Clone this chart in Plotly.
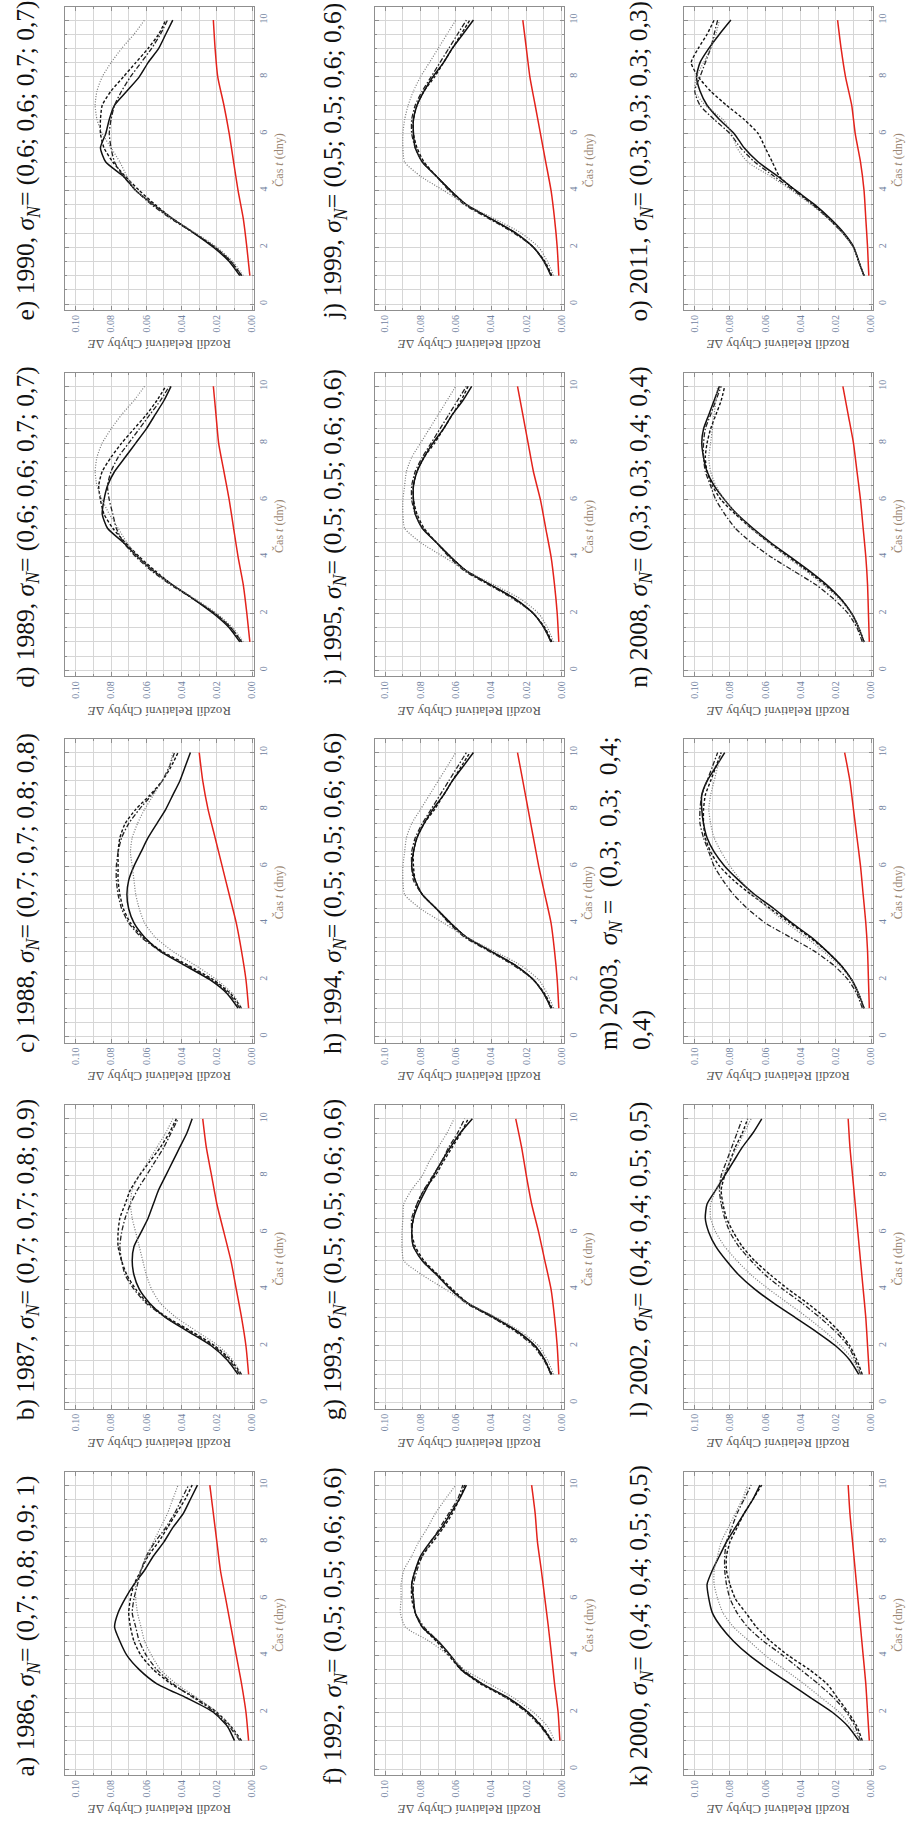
import plotly.graph_objects as go

# Time samples (days) for the four ensemble curves and for the red reference curve
T = [1, 1.5, 2, 2.5, 3, 3.5, 4, 4.5, 5, 5.5, 6, 6.5, 7, 7.5, 8, 8.5, 9, 9.5, 10]
T_RED = [1, 2, 3, 4, 5, 6, 7, 8, 9, 10]

# ---- a) 1986
A_SOLID = [.010, .014, .022, .037, .054, .064, .071, .075, .078, .076, .072, .067, .061, .056, .050, .045, .039, .035, .031]
A_DASH = [.006, .012, .020, .032, .046, .056, .063, .067, .069, .070, .069, .067, .063, .059, .053, .048, .043, .038, .034]
A_DASHDOT = [.007, .013, .021, .033, .045, .054, .060, .064, .066, .068, .067, .065, .063, .060, .055, .049, .044, .040, .036]
A_DOT = [.007, .012, .020, .031, .043, .052, .057, .061, .063, .065, .066, .066, .063, .060, .056, .052, .048, .045, .042]
A_RED = [.002, .0035, .006, .009, .012, .015, .018, .020, .022, .024]
# ---- b) 1987
B_SOLID = [.008, .014, .023, .036, .049, .058, .064, .067, .068, .067, .063, .059, .056, .053, .049, .045, .041, .037, .034]
B_DASH = [.006, .012, .021, .034, .048, .059, .066, .071, .074, .076, .076, .075, .072, .069, .064, .058, .052, .047, .043]
B_DASHDOT = [.007, .013, .022, .035, .049, .060, .067, .072, .074, .075, .074, .072, .069, .065, .060, .055, .050, .046, .042]
B_DOT = [.006, .011, .019, .031, .043, .052, .057, .060, .062, .064, .066, .068, .069, .068, .064, .059, .054, .049, .045]
B_RED = [.002, .0035, .006, .009, .012, .016, .020, .023, .026, .028]
# ---- c) 1988
C_SOLID = [.008, .014, .024, .038, .052, .061, .067, .070, .071, .070, .067, .063, .059, .054, .049, .045, .041, .038, .035]
C_DASH = [.006, .012, .022, .036, .051, .062, .069, .073, .075, .076, .076, .076, .075, .072, .066, .058, .051, .046, .042]
C_DASHDOT = [.007, .013, .023, .037, .052, .063, .070, .074, .076, .077, .077, .076, .074, .070, .064, .057, .051, .047, .044]
C_DOT = [.006, .011, .020, .032, .045, .055, .061, .064, .066, .067, .068, .069, .068, .065, .061, .056, .051, .047, .045]
C_RED = [.002, .0035, .006, .009, .013, .017, .021, .025, .028, .030]
# ---- d) 1989
D_SOLID = [.007, .013, .022, .033, .045, .056, .065, .073, .082, .085, .084, .082, .078, .072, .066, .060, .055, .050, .046]
D_DASH = [.006, .012, .021, .033, .045, .055, .064, .072, .079, .084, .086, .087, .085, .080, .074, .067, .060, .054, .049]
D_DASHDOT = [.006, .012, .021, .033, .046, .057, .066, .073, .077, .079, .081, .082, .080, .076, .070, .064, .058, .052, .047]
D_DOT = [.005, .011, .020, .032, .045, .056, .065, .071, .076, .081, .085, .088, .089, .088, .085, .080, .074, .067, .061]
D_RED = [.0013, .003, .005, .008, .0105, .013, .016, .019, .0205, .022]
# ---- e) 1990
E_SOLID = [.007, .013, .022, .033, .045, .056, .066, .073, .083, .086, .083, .081, .078, .071, .064, .059, .053, .049, .045]
E_DASH = [.006, .012, .021, .033, .045, .055, .064, .072, .079, .084, .086, .086, .085, .080, .073, .066, .059, .053, .049]
E_DASHDOT = [.006, .012, .021, .033, .046, .057, .066, .073, .078, .080, .081, .080, .078, .074, .069, .063, .057, .052, .048]
E_DOT = [.005, .011, .020, .032, .045, .056, .066, .071, .075, .080, .085, .088, .089, .088, .085, .080, .074, .067, .061]
E_RED = [.0013, .003, .005, .008, .0105, .013, .016, .0195, .021, .022]
# ---- f) 1992
F_SOLID = [.0057, .0114, .019, .030, .045, .057, .063, .070, .079, .083, .084, .085, .083, .080, .0745, .068, .063, .058, .054]
F_DASH = [.0055, .011, .019, .031, .046, .057, .064, .071, .079, .083, .085, .085, .083, .079, .073, .067, .062, .058, .055]
F_DASHDOT = [.006, .012, .020, .031, .045, .056, .063, .070, .078, .083, .084, .084, .082, .079, .074, .069, .064, .059, .056]
F_DOT = [.004, .008, .016, .027, .041, .055, .064, .075, .0886, .0914, .091, .091, .0895, .085, .081, .076, .0716, .066, .060]
F_RED = [.001, .002, .004, .0057, .0075, .0095, .0115, .0137, .015, .017]
# ---- g) 1993
G_SOLID = [.006, .0095, .015, .0246, .038, .053, .063, .0707, .079, .084, .085, .084, .081, .077, .0726, .068, .063, .0575, .0506]
G_DASH = [.0055, .0095, .015, .025, .039, .053, .062, .070, .078, .083, .085, .084, .082, .078, .0716, .067, .062, .057, .053]
G_DASHDOT = [.006, .010, .016, .026, .039, .054, .063, .071, .079, .084, .085, .085, .082, .078, .073, .068, .064, .059, .055]
G_DOT = [.0045, .008, .013, .023, .037, .053, .066, .079, .0895, .0905, .0905, .090, .0895, .085, .079, .075, .070, .065, .061]
G_RED = [.0016, .0025, .004, .006, .0095, .013, .017, .020, .0227, .026]
# ---- h) 1994
H_SOLID = [.006, .010, .016, .026, .040, .054, .063, .071, .079, .083, .085, .084, .082, .078, .073, .067, .062, .056, .050]
H_DASH = [.0055, .0095, .016, .026, .040, .054, .063, .071, .079, .083, .084, .084, .082, .078, .072, .067, .062, .057, .052]
H_DASHDOT = [.006, .010, .016, .027, .041, .055, .064, .071, .079, .084, .085, .085, .083, .079, .074, .069, .064, .059, .054]
H_DOT = [.0045, .008, .013, .023, .038, .054, .067, .080, .089, .090, .090, .089, .088, .085, .080, .075, .070, .065, .060]
H_RED = [.0016, .0025, .004, .006, .0095, .013, .016, .019, .022, .025]
# ---- i) 1995
I_SOLID = [.006, .010, .016, .026, .040, .054, .063, .071, .079, .083, .084, .084, .082, .078, .073, .067, .062, .056, .051]
I_DASH = [.0055, .0095, .016, .026, .040, .054, .063, .071, .078, .082, .084, .084, .082, .078, .072, .067, .062, .057, .053]
I_DASHDOT = [.006, .010, .016, .027, .041, .055, .064, .071, .079, .083, .085, .085, .083, .079, .074, .069, .064, .059, .054]
I_DOT = [.0045, .008, .013, .023, .038, .054, .067, .080, .089, .090, .090, .089, .088, .085, .080, .075, .070, .065, .060]
I_RED = [.0016, .0025, .004, .006, .009, .012, .016, .019, .022, .025]
# ---- j) 1999
J_SOLID = [.006, .010, .016, .026, .040, .054, .063, .071, .079, .083, .084, .084, .082, .078, .073, .067, .062, .056, .050]
J_DASH = [.0055, .0095, .016, .026, .040, .054, .063, .071, .078, .082, .084, .084, .082, .078, .072, .067, .062, .057, .052]
J_DASHDOT = [.006, .010, .016, .027, .041, .055, .064, .071, .079, .083, .085, .085, .083, .079, .074, .069, .064, .059, .054]
J_DOT = [.0045, .008, .013, .023, .038, .054, .067, .080, .089, .090, .090, .089, .087, .084, .080, .075, .070, .065, .060]
J_RED = [.0016, .0025, .004, .006, .009, .012, .015, .018, .020, .022]
# ---- k) 2000
K_SOLID = [.007, .013, .022, .034, .046, .058, .069, .078, .085, .090, .092, .093, .090, .086, .082, .077, .072, .067, .063]
K_DASH = [.005, .008, .013, .019, .025, .035, .047, .057, .065, .071, .077, .080, .082, .082, .080, .076, .072, .067, .062]
K_DASHDOT = [.006, .009, .014, .021, .030, .040, .050, .061, .070, .076, .080, .082, .083, .083, .082, .079, .076, .072, .068]
K_DOT = [.006, .011, .018, .028, .038, .049, .060, .069, .078, .084, .087, .089, .089, .087, .085, .081, .077, .073, .070]
K_RED = [.001, .002, .003, .0045, .006, .0075, .009, .0105, .012, .013]
# ---- l) 2002
L_SOLID = [.007, .012, .020, .031, .043, .055, .066, .075, .082, .088, .092, .094, .093, .088, .083, .078, .073, .067, .062]
L_DASH = [.005, .008, .012, .018, .026, .036, .047, .057, .066, .073, .078, .082, .084, .085, .083, .080, .077, .073, .070]
L_DASHDOT = [.006, .009, .013, .020, .029, .039, .050, .060, .068, .075, .080, .083, .085, .086, .085, .082, .079, .076, .073]
L_DOT = [.006, .010, .017, .026, .036, .047, .058, .068, .076, .083, .088, .091, .091, .088, .084, .080, .076, .072, .068]
L_RED = [.001, .002, .003, .0045, .006, .0075, .009, .0105, .012, .013]
# ---- m) 2003
M_SOLID = [.004, .007, .011, .017, .025, .034, .045, .055, .066, .075, .083, .089, .093, .095, .096, .096, .093, .088, .083]
M_DASH = [.004, .007, .011, .017, .025, .035, .046, .057, .068, .078, .086, .091, .094, .095, .095, .094, .091, .088, .085]
M_DASHDOT = [.005, .008, .013, .021, .032, .046, .060, .070, .078, .084, .089, .092, .095, .097, .097, .096, .093, .090, .087]
M_DOT = [.004, .007, .011, .018, .027, .037, .048, .058, .067, .074, .080, .085, .089, .091, .092, .091, .089, .087, .085]
M_RED = [.001, .0015, .002, .003, .0045, .006, .008, .010, .012, .015]
# ---- n) 2008
N_SOLID = [.004, .007, .011, .017, .025, .035, .046, .057, .067, .076, .083, .089, .093, .095, .096, .095, .092, .089, .086]
N_DASH = [.004, .007, .011, .017, .026, .036, .047, .058, .068, .077, .085, .090, .093, .094, .093, .091, .088, .085, .083]
N_DASHDOT = [.005, .008, .013, .021, .031, .044, .057, .068, .077, .083, .088, .091, .094, .095, .095, .094, .091, .088, .085]
N_DOT = [.004, .007, .011, .018, .027, .037, .048, .058, .068, .076, .083, .088, .091, .092, .091, .090, .089, .088, .087]
N_RED = [.001, .0015, .002, .003, .0045, .006, .008, .010, .013, .016]
# ---- o) 2011
O_SOLID = [.004, .007, .0098, .0154, .023, .032, .0427, .053, .064, .072, .0776, .086, .093, .097, .099, .097, .092, .086, .0795]
O_DASH = [.004, .007, .010, .016, .024, .033, .043, .052, .056, .060, .064, .072, .082, .091, .098, .102, .098, .093, .089]
O_DASHDOT = [.004, .007, .010, .016, .024, .033, .044, .055, .066, .074, .080, .089, .097, .100, .097, .094, .091, .089, .087]
O_DOT = [.004, .007, .010, .016, .024, .034, .045, .057, .070, .076, .079, .084, .094, .100, .099, .095, .091, .088, .086]
O_RED = [.0013, .002, .003, .004, .006, .009, .011, .0145, .017, .019]

TITLES = [
    "a) 1986, <i>σ<sub>N</sub></i>= (0,7; 0,8; 0,9; 1)",
    "b) 1987, <i>σ<sub>N</sub></i>= (0,7; 0,7; 0,8; 0,9)",
    "c) 1988, <i>σ<sub>N</sub></i>= (0,7; 0,7; 0,8; 0,8)",
    "d) 1989, <i>σ<sub>N</sub></i>= (0,6; 0,6; 0,7; 0,7)",
    "e) 1990, <i>σ<sub>N</sub></i>= (0,6; 0,6; 0,7; 0,7)",
    "f) 1992, <i>σ<sub>N</sub></i>= (0,5; 0,5; 0,6; 0,6)",
    "g) 1993, <i>σ<sub>N</sub></i>= (0,5; 0,5; 0,6; 0,6)",
    "h) 1994, <i>σ<sub>N</sub></i>= (0,5; 0,5; 0,6; 0,6)",
    "i) 1995, <i>σ<sub>N</sub></i>= (0,5; 0,5; 0,6; 0,6)",
    "j) 1999, <i>σ<sub>N</sub></i>= (0,5; 0,5; 0,6; 0,6)",
    "k) 2000, <i>σ<sub>N</sub></i>= (0,4; 0,4; 0,5; 0,5)",
    "l) 2002, <i>σ<sub>N</sub></i>= (0,4; 0,4; 0,5; 0,5)",
    "m) 2003,\u00a0 <i>σ<sub>N</sub></i>\u00a0=\u00a0 (0,3;\u00a0 0,3;\u00a0 0,4;<br>0,4)",
    "n) 2008, <i>σ<sub>N</sub></i>= (0,3; 0,3; 0,4; 0,4)",
    "o) 2011, <i>σ<sub>N</sub></i>= (0,3; 0,3; 0,3; 0,3)",
]

SERIES = [
    (A_SOLID, A_DASH, A_DASHDOT, A_DOT, A_RED),
    (B_SOLID, B_DASH, B_DASHDOT, B_DOT, B_RED),
    (C_SOLID, C_DASH, C_DASHDOT, C_DOT, C_RED),
    (D_SOLID, D_DASH, D_DASHDOT, D_DOT, D_RED),
    (E_SOLID, E_DASH, E_DASHDOT, E_DOT, E_RED),
    (F_SOLID, F_DASH, F_DASHDOT, F_DOT, F_RED),
    (G_SOLID, G_DASH, G_DASHDOT, G_DOT, G_RED),
    (H_SOLID, H_DASH, H_DASHDOT, H_DOT, H_RED),
    (I_SOLID, I_DASH, I_DASHDOT, I_DOT, I_RED),
    (J_SOLID, J_DASH, J_DASHDOT, J_DOT, J_RED),
    (K_SOLID, K_DASH, K_DASHDOT, K_DOT, K_RED),
    (L_SOLID, L_DASH, L_DASHDOT, L_DOT, L_RED),
    (M_SOLID, M_DASH, M_DASHDOT, M_DOT, M_RED),
    (N_SOLID, N_DASH, N_DASHDOT, N_DOT, N_RED),
    (O_SOLID, O_DASH, O_DASHDOT, O_DOT, O_RED),
]

DE_TICKS = [0.0, 0.02, 0.04, 0.06, 0.08, 0.10]
DE_LABELS = ["0.00", "0.02", "0.04", "0.06", "0.08", "0.10"]
T_TICKS = [0, 2, 4, 6, 8, 10]

# ---- page geometry (pixels); the whole sheet is laid out turned by 90 degrees
W, H = 910, 1827
COL_X0, COL_STEP, FRAME_W = 65.4, 310.5, 189.7
ROW_Y0, ROW_STEP, FRAME_H = 6.7, 366.25, 303.3
TITLE_X = [27, 335, 642]
TITLE_X_TWO_LINES = 627     # the one title that wraps onto a second line

SERIF = "Liberation Serif"
TICK_COLOR = "#7282a0"
GRID = "#d6d6d6"
FRAME = "#8f8f8f"

STYLES = [
    dict(color="#111111", width=1.5, dash="solid"),
    dict(color="#111111", width=1.4, dash="3px,2px"),
    dict(color="#222222", width=1.3, dash="5px,2px,1.5px,2px"),
    dict(color="#7a7a7a", width=1.2, dash="1px,1.6px"),
]
RED = dict(color="#e3231c", width=1.5, dash="solid")

fig = go.Figure()
annotations = []

for k, (title, series) in enumerate(zip(TITLES, SERIES)):
    col = k // 5
    row = 4 - (k % 5)          # a..e run from the bottom of the sheet upwards
    idx = k + 1
    xa = "x" if idx == 1 else f"x{idx}"
    ya = "y" if idx == 1 else f"y{idx}"
    xl = "xaxis" if idx == 1 else f"xaxis{idx}"
    yl = "yaxis" if idx == 1 else f"yaxis{idx}"

    left = COL_X0 + COL_STEP * col
    top = ROW_Y0 + ROW_STEP * row
    dom_x = [left / W, (left + FRAME_W) / W]
    dom_y = [1 - (top + FRAME_H) / H, 1 - top / H]

    for vals, st in zip(series[:4], STYLES):
        fig.add_trace(go.Scatter(x=vals, y=T, mode="lines", xaxis=xa, yaxis=ya,
                                 line=dict(shape="spline", smoothing=0.6, **st),
                                 showlegend=False, hoverinfo="skip"))
    fig.add_trace(go.Scatter(x=series[4], y=T_RED, mode="lines", xaxis=xa, yaxis=ya,
                             line=dict(shape="spline", smoothing=0.6, **RED),
                             showlegend=False, hoverinfo="skip"))

    fig.update_layout(**{
        xl: dict(domain=dom_x, anchor=ya, range=[0.106, -0.0012],
                 tickvals=DE_TICKS, ticktext=DE_LABELS, tickangle=-90,
                 tickfont=dict(family=SERIF, size=10, color=TICK_COLOR),
                 ticks="inside", ticklen=4, tickcolor=FRAME,
                 showgrid=True, gridcolor=GRID, gridwidth=1,
                 minor=dict(dtick=0.01, tick0=0, showgrid=True, gridcolor=GRID,
                            ticks="inside", ticklen=2, tickcolor=FRAME),
                 showline=True, linecolor=FRAME, linewidth=1, mirror="ticks",
                 zeroline=False, fixedrange=True),
        yl: dict(domain=dom_y, anchor=xa, range=[-0.21, 10.47], side="right",
                 tickvals=T_TICKS, tickangle=-90,
                 tickfont=dict(family=SERIF, size=10, color=TICK_COLOR),
                 ticks="inside", ticklen=4, tickcolor=FRAME,
                 showgrid=True, gridcolor=GRID, gridwidth=1,
                 minor=dict(dtick=0.5, tick0=0, showgrid=True, gridcolor=GRID,
                            ticks="inside", ticklen=2, tickcolor=FRAME),
                 showline=True, linecolor=FRAME, linewidth=1, mirror="ticks",
                 zeroline=False, fixedrange=True),
    })

    mid_y = top + FRAME_H * (10.47 - 5.05) / (10.47 + 0.21)
    two_lines = "<br>" in title
    title_x = TITLE_X_TWO_LINES if two_lines else TITLE_X[col]
    # panel title
    annotations.append(dict(text=title, xref="paper", yref="paper",
                            x=title_x / W, y=1 - mid_y / H, textangle=-90,
                            xanchor="center", yanchor="middle", showarrow=False,
                            align="left" if two_lines else "center",
                            font=dict(family=SERIF, size=25.5, color="#111111")))
    # time axis label
    annotations.append(dict(text="Čas <i>t</i> (dny)", xref="paper", yref="paper",
                            x=(280 + COL_STEP * col) / W, y=1 - mid_y / H, textangle=-90,
                            xanchor="center", yanchor="middle", showarrow=False,
                            font=dict(family=SERIF, size=12, color="#9a8672")))
    # error-difference axis label
    annotations.append(dict(text="Rozdíl Relativní Chyby Δ<i>E</i>", xref="paper", yref="paper",
                            x=(160 + COL_STEP * col) / W, y=1 - (top + 338) / H, textangle=180,
                            xanchor="center", yanchor="middle", showarrow=False,
                            font=dict(family=SERIF, size=13, color="#555555")))

fig.update_layout(width=W, height=H, margin=dict(l=0, r=0, t=0, b=0),
                  paper_bgcolor="white", plot_bgcolor="white",
                  annotations=annotations, showlegend=False)

fig.write_html("out.html")
